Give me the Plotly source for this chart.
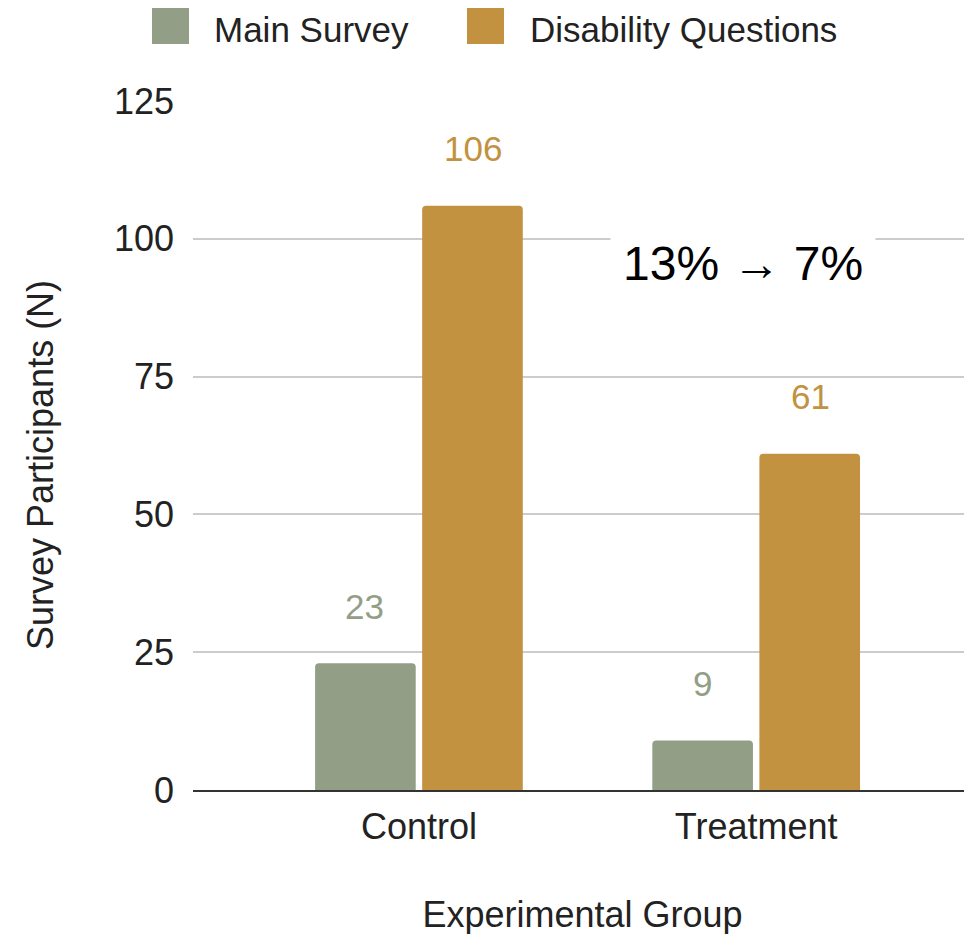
import plotly.graph_objects as go

groups = ["Control", "Treatment"]
main_survey = [23, 9]
disability_q = [106, 61]
series_names = ["Main Survey", "Disability Questions"]
colors = ["#939E87", "#C29241"]
note_text = "13% → 7%"
y_title = "Survey Participants (N)"
x_title = "Experimental Group"

FONT = "Liberation Sans"
OFF = 8  # page body margin
W, H = 964, 934
ML, MR, MT, MB = 193 - OFF, 0, 101 - OFF, H - (790 - OFF)

fig = go.Figure()
for name, vals, col in zip(series_names, [main_survey, disability_q], colors):
    fig.add_trace(go.Bar(
        name=name, x=groups, y=vals,
        marker=dict(color=col, cornerradius=4, line=dict(width=0)),
        showlegend=False,
    ))

# value labels above bars
for vals, col, shift in zip([main_survey, disability_q], colors, [-54, 54]):
    for g, v in zip(groups, vals):
        fig.add_annotation(
            x=g, y=v, xref="x", yref="y", text=str(v), showarrow=False,
            xshift=shift, yshift=57, font=dict(family=FONT, size=35, color=col),
        )

fig.add_annotation(
    x=0.96, y=95.6, xref="x", yref="y", text=note_text, showarrow=False,
    font=dict(family=FONT, size=48, color="black"), bgcolor="white",
    borderpad=12,
)

# legend drawn as swatches + labels (paper coords from screen pixel positions)
pw, ph = W - ML - MR, H - MT - MB
def px_x(p):
    return (p - OFF - ML) / pw
def px_y(p):
    return (H - MB - (p - OFF)) / ph

swatch_x = [152, 467]
label_x = [213, 529]
for sx, lx, name, col in zip(swatch_x, label_x, series_names, colors):
    fig.add_shape(type="rect", xref="paper", yref="paper",
                  x0=px_x(sx), x1=px_x(sx + 37), y0=px_y(44), y1=px_y(8),
                  fillcolor=col, line=dict(width=0), layer="above")
    fig.add_annotation(x=px_x(lx), y=px_y(29), xref="paper", yref="paper",
                       text=name, showarrow=False, xanchor="left", yanchor="middle",
                       borderpad=0,
                       font=dict(family=FONT, size=35, color="#222"))

# y axis title placed at its reference position
fig.add_annotation(x=px_x(40), y=px_y(465), xref="paper", yref="paper",
                   text=y_title, textangle=-90, showarrow=False,
                   xanchor="center", yanchor="middle",
                   font=dict(family=FONT, size=36, color="#222"))

fig.update_layout(
    width=W, height=H,
    margin=dict(l=ML, r=MR, t=MT, b=MB, autoexpand=False),
    paper_bgcolor="white", plot_bgcolor="white",
    barmode="group", bargap=0.365, bargroupgap=0.06,
    font=dict(family=FONT, size=36, color="#222"),
    showlegend=False,
)
fig.update_xaxes(
    range=[-0.67, 1.64], showline=True, linecolor="#333", linewidth=2,
    showgrid=False, ticks="", ticklabelstandoff=4, tickfont=dict(size=36, color="#222"),
    title=dict(text=x_title, font=dict(size=36, color="#222"), standoff=56),
)
fig.update_yaxes(
    range=[0, 125], tickvals=[0, 25, 50, 75, 100, 125],
    showgrid=True, gridcolor="#CCCCCC", gridwidth=2, zeroline=False,
    ticks="", ticklabelstandoff=18, tickfont=dict(size=36, color="#222"),
)

fig.write_html("out.html")
